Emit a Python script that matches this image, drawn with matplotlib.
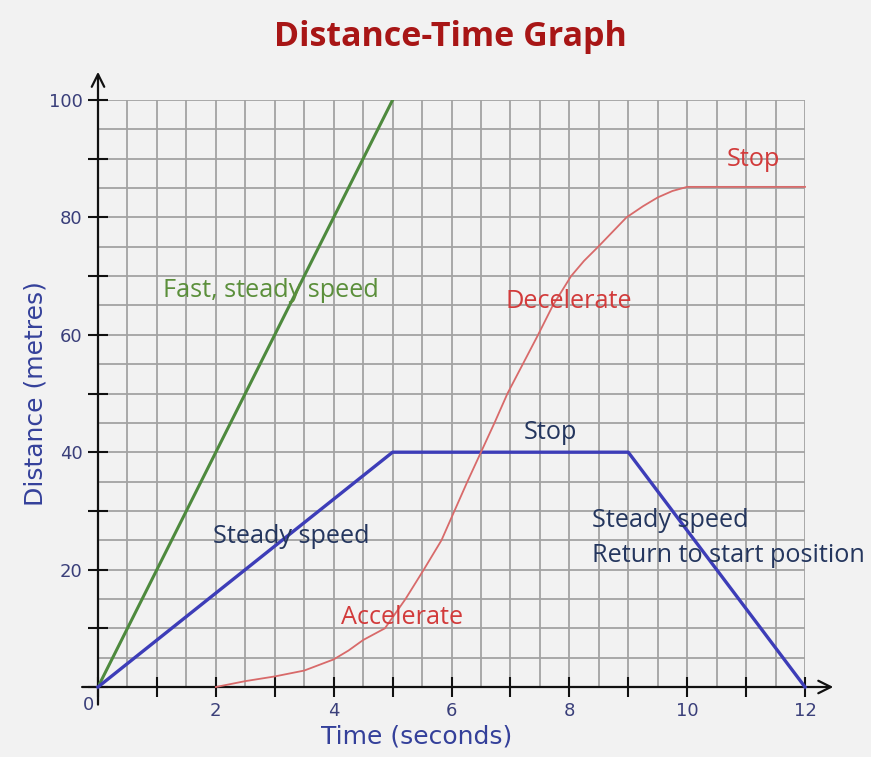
import numpy as np
import matplotlib
matplotlib.use('Agg')
import matplotlib.pyplot as plt
from matplotlib.ticker import MultipleLocator, FuncFormatter

# data
fast_t = [0, 5]
fast_d = [0, 100]

blue_t = [0, 5, 9, 12]
blue_d = [0, 40, 40, 0]

red_t = [2.0, 2.5, 3.0, 3.5, 4.0, 4.25, 4.5, 4.87, 5.22, 5.53, 5.83, 6.05, 6.27,
         6.5, 6.73, 6.95, 7.21, 7.47, 7.72, 8.03, 8.25, 8.49, 8.97, 9.25, 9.5,
         9.75, 10.0, 12.0]
red_d = [0, 1.0, 1.8, 2.8, 4.7, 6.2, 8.0, 10.0, 15.0, 20.0, 25.0, 30.0, 35.0,
         40.0, 45.0, 50.0, 55.0, 60.0, 65.0, 70.0, 72.6, 75.0, 80.0, 81.9, 83.4,
         84.5, 85.2, 85.2]

labels = [
    ('Fast, steady speed', 1.1, 67.6, '#5b8f3b'),
    ('Decelerate', 6.91, 65.6, '#d23b3b'),
    ('Stop', 10.68, 89.8, '#d23b3b'),
    ('Stop', 7.22, 43.4, '#24365e'),
    ('Steady speed', 1.95, 25.7, '#24365e'),
    ('Accelerate', 4.13, 11.8, '#d23b3b'),
    ('Steady speed', 8.39, 28.4, '#24365e'),
    ('Return to start position', 8.39, 22.4, '#24365e'),
]

bg = '#f2f2f2'
navy = '#34409a'

fig = plt.figure(figsize=(8.71, 7.57), dpi=100, facecolor=bg)
ax = fig.add_axes([98 / 871, 1 - 687 / 757, 707 / 871, 587 / 757])
ax.set_facecolor(bg)
ax.set_xlim(0, 12)
ax.set_ylim(0, 100)

for s in ax.spines.values():
    s.set_visible(False)

ax.xaxis.set_major_locator(MultipleLocator(1))
ax.xaxis.set_minor_locator(MultipleLocator(0.5))
ax.yaxis.set_major_locator(MultipleLocator(10))
ax.yaxis.set_minor_locator(MultipleLocator(5))
ax.xaxis.set_major_formatter(FuncFormatter(lambda v, p: '%d' % v if v % 2 == 0 and v > 0 else ''))
ax.yaxis.set_major_formatter(FuncFormatter(lambda v, p: '%d' % v if v % 20 == 0 and v > 0 else ''))
ax.grid(True, which='both', color='#a3a3a3', lw=1.3)
ax.set_axisbelow(True)
ax.tick_params(which='major', direction='inout', length=14, width=1.5, color='#111111',
               labelsize=13, labelcolor='#3a3f7a', pad=4)
ax.tick_params(which='minor', length=0)

# axes with arrow heads
ax.annotate('', xy=(12.48, 0), xytext=(-0.27, 0), annotation_clip=False,
            arrowprops=dict(arrowstyle='->,head_length=0.9,head_width=0.45', lw=1.6, color='#111111',
                            shrinkA=0, shrinkB=0))
ax.annotate('', xy=(0, 104.8), xytext=(0, -3), annotation_clip=False,
            arrowprops=dict(arrowstyle='->,head_length=0.9,head_width=0.45', lw=1.6, color='#111111',
                            shrinkA=0, shrinkB=0))
ax.text(-0.06, -1.6, '0', ha='right', va='top', fontsize=13, color='#3a3f7a')

ax.plot(fast_t, fast_d, color='#4e8a3e', lw=2.2, zorder=3)
ax.plot(blue_t, blue_d, color='#3d3db8', lw=2.4, zorder=3, clip_on=False)
ax.plot(red_t, red_d, color='#d86a6a', lw=1.3, zorder=3, clip_on=False,
        solid_joinstyle='round')

for txt, x, y, c in labels:
    ax.text(x, y, txt, color=c, fontsize=18.2, family='Open Sans', ha='left', va='center',
            zorder=4)

ax.set_xlabel('Time (seconds)', fontsize=18, color=navy)
ax.xaxis.set_label_coords(0.451, -0.064)
ax.set_ylabel('Distance (metres)', fontsize=18, color=navy)
ax.yaxis.set_label_coords(-0.071, 0.5)

fig.text(0.517, 1 - 37 / 757, 'Distance-Time Graph', ha='center', va='center',
         fontsize=24.5, fontweight='bold', family='Open Sans', color='#a81616')

fig.savefig('out.png', dpi=100, facecolor=bg)
